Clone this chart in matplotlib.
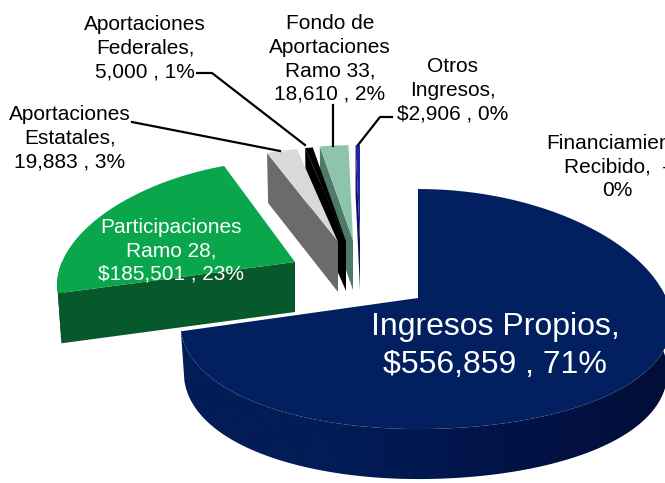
import numpy as np
import matplotlib
matplotlib.use('Agg')
import matplotlib.pyplot as plt
from matplotlib.colors import LinearSegmentedColormap
from matplotlib.patches import Polygon

plt.rcParams['font.family'] = ['Liberation Sans', 'DejaVu Sans']

# Ingresos amounts
categories = ['Ingresos Propios', 'Participaciones Ramo 28', 'Aportaciones Estatales',
              'Aportaciones Federales', 'Fondo de Aportaciones Ramo 33', 'Otros Ingresos',
              'Financiamiento Recibido']
values = [556859, 185501, 19883, 5000, 18610, 2906, 0]
labels = ['Ingresos Propios,\n$556,859 , 71%',
          'Participaciones\nRamo 28,\n$185,501 , 23%',
          'Aportaciones\nEstatales,\n19,883 , 3%',
          'Aportaciones\nFederales,\n5,000 , 1%',
          'Fondo de\nAportaciones\nRamo 33,\n18,610 , 2%',
          'Otros\nIngresos,\n$2,906 , 0%',
          'Financiamiento\nRecibido,  -\n0%']

# slice styling and exploded positions (pixels of the 665x483 picture)
top_colors = ['#02205f', '#0aa64c', '#d9d9d9', '#000000', '#8fc4ac', '#2323a8', '#ffffff']
side_colors = ['#021c56', '#07592b', '#6b6b6b', '#000000', '#4f7a6b', '#14145e', '#ffffff']
apex_x = [418, 295, 338, 346, 353, 360, 360]
apex_y = [298, 262, 242, 241, 240, 240, 240]
ry_scale = [1.0, 0.94, 0.87, 0.87, 0.87, 0.87, 0.87]
label_x = [495, 171, 70, 145, 330, 453, 617]
label_y = [346, 251, 138, 48, 59, 90, 167]
label_size = [23, 15, 15, 15, 15, 15, 15]
label_color = ['white', 'white', 'black', 'black', 'black', 'black', 'black']
label_space = [1.31, 1.3, 1.3, 1.3, 1.3, 1.3, 1.3]

RX_LEFT, RX_RIGHT, RY = 233, 248, 119
KX, KY = 0.2, 0.092
DEPTH = 50
wall_cmap = LinearSegmentedColormap.from_list('wall', ['#021c56', '#021c56', '#011348', '#010e38'])


def project(theta, ax0, ay0, scale):
    # theta in degrees clockwise from north, squashed with some perspective
    t = np.radians(theta)
    rx = np.where(np.sin(t) < 0, RX_LEFT, RX_RIGHT)
    x = ax0 + rx * np.sin(t) / (1 + KX * np.cos(t))
    y = ay0 - RY * scale * np.cos(t) / (1 + KY * np.cos(t))
    return x, y


fig = plt.figure(figsize=(6.65, 4.83), dpi=100)
ax = fig.add_axes([0, 0, 1, 1])
ax.axis('off')

edges = np.concatenate([[0], np.cumsum(values)]) / sum(values) * 360

# right to left, then green and the big slice in front
for i in [5, 4, 3, 2, 1, 0]:
    t0, t1 = edges[i], edges[i + 1]
    theta = np.linspace(t0, t1, 200)
    x, y = project(theta, apex_x[i], apex_y[i], ry_scale[i])

    # wall under the outer rim, filled with a left to right gradient
    lo, hi = max(t0, 85), min(t1, 270)
    if hi > lo:
        th = np.linspace(lo, hi, 200)
        xr, yr = project(th, apex_x[i], apex_y[i], ry_scale[i])
        xb = apex_x[i] + (xr - apex_x[i]) * 0.985
        wall = Polygon(np.c_[np.r_[xr, xb[::-1]], np.r_[yr, yr[::-1] + DEPTH]],
                       closed=True, transform=ax.transData, fc='none', ec='none')
        ax.add_patch(wall)
        grad = ax.imshow(np.linspace(0, 1, 256).reshape(1, -1), cmap=wall_cmap, aspect='auto',
                         extent=(xr.min(), 665, 483, yr.min()), zorder=1)
        grad.set_clip_path(wall)

    # flat cut on the left side of the slice
    if t0 > 180:
        xs, ys = project(np.array([t0]), apex_x[i], apex_y[i], ry_scale[i])
        xs2 = apex_x[i] + (xs[0] - apex_x[i]) * 0.985
        ax.fill([apex_x[i], xs[0], xs2, apex_x[i]],
                [apex_y[i], ys[0], ys[0] + DEPTH, apex_y[i] + DEPTH],
                color=side_colors[i], lw=0, zorder=1)

    ax.fill(np.r_[apex_x[i], x], np.r_[apex_y[i], y], color=top_colors[i], lw=0, zorder=2)

# leader lines
ax.plot([132, 280], [122, 151], color='black', lw=1.6, zorder=3)
ax.plot([197, 212, 305], [73, 73, 145], color='black', lw=1.6, zorder=3)
ax.plot([333, 333], [105, 146], color='black', lw=1.6, zorder=3)
ax.plot([392, 380, 358], [117, 117, 145], color='black', lw=1.6, zorder=3)

for i, txt in enumerate(labels):
    ax.text(label_x[i], label_y[i], txt, ha='center', va='center', multialignment='center',
            fontsize=label_size[i], color=label_color[i], linespacing=label_space[i], zorder=4)

ax.set_xlim(0, 665)
ax.set_ylim(483, 0)
fig.savefig('out.png', dpi=100)
plt.close(fig)
